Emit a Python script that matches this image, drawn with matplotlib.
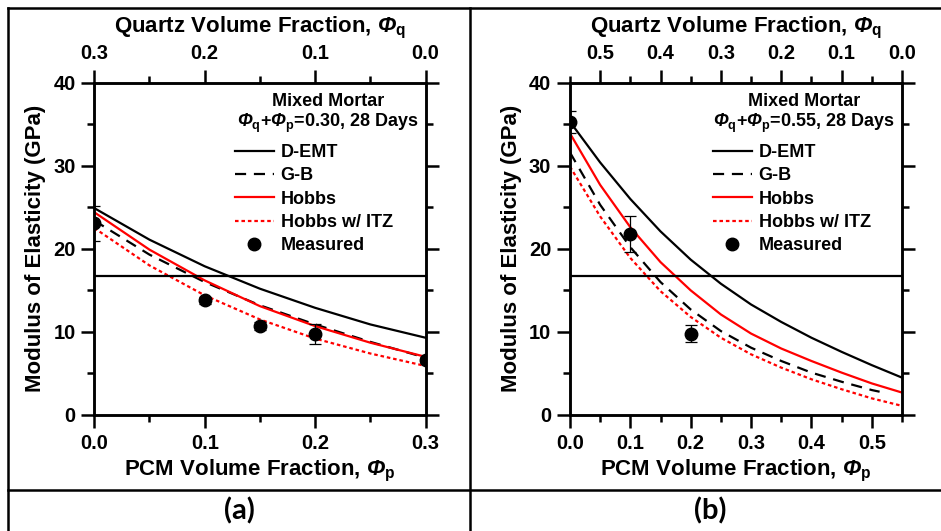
import numpy as np
import matplotlib
matplotlib.use('Agg')
import matplotlib.pyplot as plt
from matplotlib.lines import Line2D
from matplotlib.ticker import MultipleLocator

plt.rcParams['font.family'] = 'Liberation Sans'
plt.rcParams['font.weight'] = 'bold'
plt.rcParams['axes.labelweight'] = 'bold'
plt.rcParams['mathtext.fontset'] = 'custom'
plt.rcParams['mathtext.rm'] = 'Liberation Sans:bold'
plt.rcParams['mathtext.it'] = 'Liberation Sans:bold:italic'
# \mathbf slot used for the bold italic Phi (mathtext forces capital greek upright in \mathit)
plt.rcParams['mathtext.bf'] = 'Liberation Sans:bold:italic'

# ---- panel (a): phi_q + phi_p = 0.30 ----
p_a = [0.0, 0.05, 0.10, 0.15, 0.20, 0.25, 0.30]
demt_a = [24.9, 21.1, 17.9, 15.2, 12.9, 10.9, 9.3]
gb_a = [23.4, 19.3, 16.0, 13.2, 10.9, 8.8, 6.9]
hobbs_a = [24.4, 19.9, 16.2, 13.1, 10.7, 8.7, 7.0]
itz_a = [22.5, 18.0, 14.4, 11.5, 9.2, 7.4, 5.9]
meas_p_a = [0.0, 0.10, 0.15, 0.20, 0.30]
meas_a = [23.1, 13.8, 10.7, 9.7, 6.6]
err_a = [2.1, 0.4, 0.5, 1.2, 0.4]

# ---- panel (b): phi_q + phi_p = 0.55 ----
p_b = [0.0, 0.05, 0.10, 0.15, 0.20, 0.25, 0.30, 0.35, 0.40, 0.45, 0.50, 0.55]
demt_b = [35.3, 30.4, 26.0, 22.1, 18.7, 15.8, 13.3, 11.2, 9.3, 7.6, 6.0, 4.5]
gb_p_b = [0.0, 0.05, 0.10, 0.15, 0.20, 0.25, 0.30, 0.35, 0.40, 0.45, 0.50, 0.513]
gb_b = [31.6, 25.3, 20.2, 16.0, 12.7, 10.1, 8.1, 6.5, 5.1, 4.0, 3.0, 2.8]
hobbs_b = [33.9, 27.7, 22.6, 18.4, 15.0, 12.1, 9.8, 8.0, 6.5, 5.1, 3.8, 2.7]
itz_b = [29.9, 23.9, 18.9, 14.9, 11.8, 9.3, 7.3, 5.7, 4.3, 3.1, 2.0, 1.1]
meas_p_b = [0.0, 0.10, 0.20]
meas_b = [35.3, 21.8, 9.8]
err_b = [1.3, 2.2, 1.0]

paste_E = 16.75
lw_ax = 1.8
PHI_Q = '$\\mathbf{Φ}_\\mathrm{q}$'
PHI_P = '$\\mathbf{Φ}_\\mathrm{p}$'


def panel(ax, p, demt, gb_p, gb, hobbs, itz, mp, mv, me, total, title2, left):
    ax.plot(p, demt, color='black', lw=1.6, label='D-EMT')
    ax.plot(gb_p, gb, color='black', lw=1.6, ls=(0, (5, 3.5)), label='G-B')
    ax.plot(p, hobbs, color='red', lw=1.6, label='Hobbs')
    ax.plot(p, itz, color='red', lw=1.6, ls=(0, (1.6, 1.3)), label='Hobbs w/ ITZ')
    ax.errorbar(mp, mv, yerr=me, fmt='none', ecolor='black', elinewidth=0.9,
                capsize=4.5, capthick=0.9)
    ax.plot(mp, mv, 'o', color='black', ms=9, ls='none', label='Measured')
    ax.plot([0, total], [paste_E, paste_E], color='black', lw=1.6)

    ax.set_xlim(0, total)
    ax.set_ylim(0, 40)
    ax.xaxis.set_major_locator(MultipleLocator(0.1))
    ax.xaxis.set_minor_locator(MultipleLocator(0.05))
    ax.yaxis.set_major_locator(MultipleLocator(10))
    ax.yaxis.set_minor_locator(MultipleLocator(5))
    ax.xaxis.set_major_formatter(lambda v, pos: '%.1f' % v)
    for s in ax.spines.values():
        s.set_linewidth(lw_ax)
    ax.tick_params(which='both', direction='out', width=lw_ax, labelsize=14.5,
                   right=True, top=False)
    ax.tick_params(which='major', length=9.5)
    ax.tick_params(which='minor', length=5)
    ax.tick_params(axis='y', pad=4)
    ax.tick_params(axis='x', pad=4)
    ax.set_xlabel('PCM Volume Fraction, ' + PHI_P, fontsize=16, labelpad=4)
    ax.set_ylabel('Modulus of Elasticity (GPa)', fontsize=16, labelpad=5)

    top = ax.twiny()
    top.set_xlim(total, 0)
    top.xaxis.set_major_locator(MultipleLocator(0.1))
    top.xaxis.set_minor_locator(MultipleLocator(0.05))
    top.xaxis.set_major_formatter(lambda v, pos: '%.1f' % abs(v))
    top.tick_params(which='both', direction='out', width=lw_ax, labelsize=14.5,
                    pad=5)
    top.tick_params(which='major', length=9.5)
    top.tick_params(which='minor', length=5)
    for s in top.spines.values():
        s.set_linewidth(lw_ax)
    top.set_xlabel('Quartz Volume Fraction, ' + PHI_Q, fontsize=16, labelpad=8)

    ax.text(0.705, 0.942, 'Mixed Mortar', transform=ax.transAxes, ha='center',
            va='center', fontsize=13)
    ax.text(0.705, 0.876, title2, transform=ax.transAxes, ha='center',
            va='center', fontsize=13)
    ax.legend(loc='upper left', bbox_to_anchor=(left, 0.815), frameon=False,
              fontsize=13, handlelength=2.15, handletextpad=0.38,
              labelspacing=0.35, borderpad=0, borderaxespad=0, numpoints=1)


fig = plt.figure(figsize=(9.41, 5.31), dpi=100)
ax_a = fig.add_axes([0.1002, 0.2185, 0.352, 0.6258])
ax_b = fig.add_axes([0.6057, 0.2185, 0.3528, 0.6258])

panel(ax_a, p_a, demt_a, p_a, gb_a, hobbs_a, itz_a, meas_p_a, meas_a, err_a,
      0.3, PHI_Q + '+' + PHI_P + '=0.30, 28 Days', 0.425)
panel(ax_b, p_b, demt_b, gb_p_b, gb_b, hobbs_b, itz_b, meas_p_b, meas_b, err_b,
      0.55, PHI_Q + '+' + PHI_P + '=0.55, 28 Days', 0.431)

# table-like frame around the two panels
W, H = 941.0, 531.0
def fline(x0, y0, x1, y1):
    fig.add_artist(Line2D([x0 / W, x1 / W], [1 - y0 / H, 1 - y1 / H],
                          color='black', lw=1.8))
fline(8, 8, 941, 8)
fline(8, 8, 8, 531)
fline(470, 8, 470, 531)
fline(8, 490, 941, 490)

fig.text(239 / W, 1 - 511 / H, '(a)', ha='center', va='center', fontsize=21,
         family='Lato', weight='bold')
fig.text(710 / W, 1 - 511 / H, '(b)', ha='center', va='center', fontsize=21,
         family='Lato', weight='bold')

fig.savefig('out.png', dpi=100)
